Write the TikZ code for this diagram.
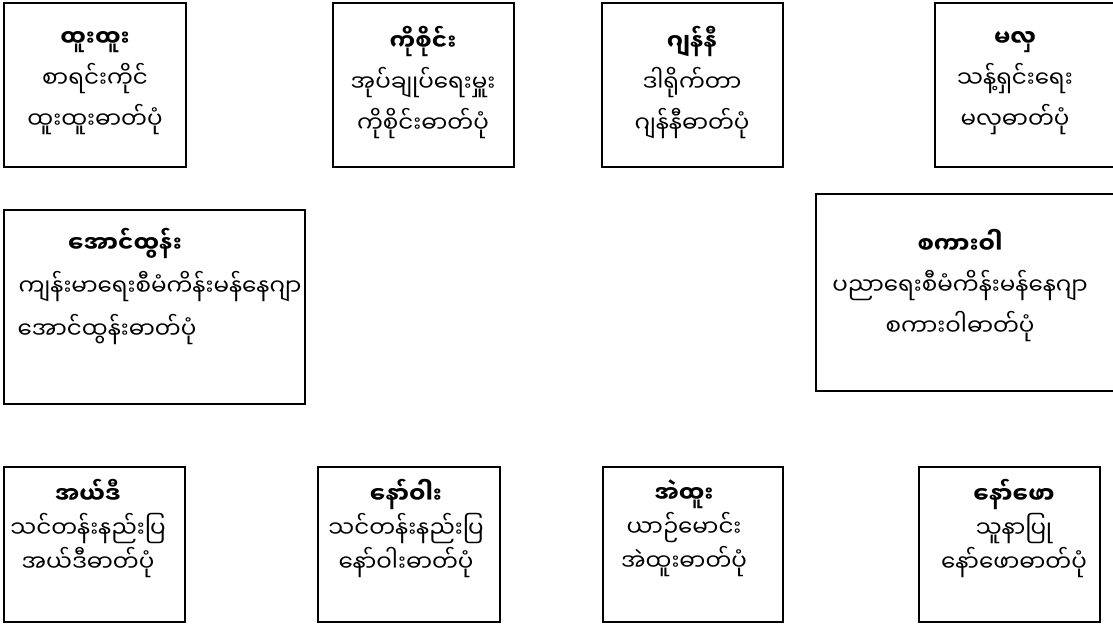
\documentclass[tikz,border=0pt]{standalone}
\usepackage{fontspec}
\newfontfamily\mmfont[Script=Myanmar]{Noto Sans Myanmar UI}
\usetikzlibrary{positioning}

\begin{document}
\begin{tikzpicture}[
    x=1pt,y=-1pt,
    box/.style={draw,line width=1.2pt,inner sep=0pt},
    txt/.style={align=center,inner sep=0pt,font={\mmfont\fontsize{23pt}{#1}\selectfont}},
    txt/.default=41pt
]
\useasboundingbox (0,0) rectangle (1113,626);

% top row
\node[box,minimum width=182pt,minimum height=164pt] (tuntun) at (95,85) {};
\node[box,minimum width=181pt,minimum height=164pt] (kosaing) at (423.5,85) {};
\node[box,minimum width=181pt,minimum height=164pt] (jenny) at (692.5,85) {};
\node[box,minimum width=190pt,minimum height=164pt] (mahla) at (1030,85) {};

\node[txt] (tuntunT) at (95,83) {\textbf{ထူးထူး}\\စာရင်းကိုင်\\ထူးထူးဓာတ်ပုံ};
\node[txt] (kosaingT) at (423,83) {\textbf{ကိုစိုင်း}\\အုပ်ချုပ်ရေးမှူး\\ကိုစိုင်းဓာတ်ပုံ};
\node[txt] (jennyT) at (692,83) {\textbf{ဂျန်နီ}\\ဒါရိုက်တာ\\ဂျန်နီဓာတ်ပုံ};
\node[txt] (mahlaT) at (1015,83) {\textbf{မလှ}\\သန့်ရှင်းရေး\\မလှဓာတ်ပုံ};

% middle row
\node[box,minimum width=301pt,minimum height=194pt] (aungtun) at (154.5,307) {};
\node[box,minimum width=310pt,minimum height=197pt] (sakarwar) at (971,292.5) {};

\node[txt=43pt] (aungtunT) at (160,287) {\hspace*{-70pt}\textbf{အောင်ထွန်း}\\ကျန်းမာရေးစီမံကိန်းမန်နေဂျာ\\\hspace*{-106pt}အောင်ထွန်းဓာတ်ပုံ};
\node[txt] (sakarwarT) at (960,286) {\textbf{စကားဝါ}\\ပညာရေးစီမံကိန်းမန်နေဂျာ\\စကားဝါဓာတ်ပုံ};

% bottom row
\node[box,minimum width=181pt,minimum height=155pt] (eddie) at (94.5,544.5) {};
\node[box,minimum width=182pt,minimum height=155pt] (nawwar) at (409,544.5) {};
\node[box,minimum width=180pt,minimum height=155pt] (ehtoo) at (693,544.5) {};
\node[box,minimum width=181pt,minimum height=155pt] (nawpaw) at (1009.5,544.5) {};

\node[txt=34pt] (eddieT) at (88,528) {\textbf{အယ်ဒီ}\\သင်တန်းနည်းပြ\\အယ်ဒီဓာတ်ပုံ};
\node[txt=34pt] (nawwarT) at (406,528) {\textbf{နော်ဝါး}\\သင်တန်းနည်းပြ\\နော်ဝါးဓာတ်ပုံ};
\node[txt=34pt] (ehtooT) at (684,528) {\textbf{အဲထူး}\\ယာဉ်မောင်း\\အဲထူးဓာတ်ပုံ};
\node[txt=34pt] (nawpawT) at (1014,528) {\textbf{နော်ဖော}\\သူနာပြု\\နော်ဖောဓာတ်ပုံ};
\end{tikzpicture}
\end{document}
